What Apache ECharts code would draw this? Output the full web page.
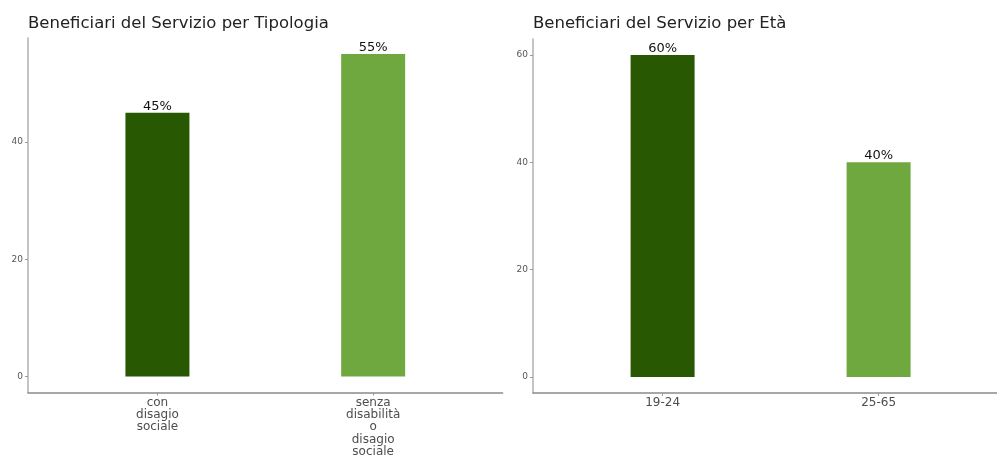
<!DOCTYPE html>
<html>
<head>
<meta charset="utf-8">
<script src="https://cdn.jsdelivr.net/npm/echarts@6/dist/echarts.min.js"></script>
<style>html,body{margin:0;padding:0;background:#fff;}#c{width:997px;height:458px;}</style>
</head>
<body>
<div id="c"></div>
<script>
const titleTipologia = "Beneficiari del Servizio per Tipologia";
const titleEta = "Beneficiari del Servizio per Età";
const catTipologia = ["con\ndisagio\nsociale", "senza\ndisabilità\no\ndisagio\nsociale"];
const valTipologia = [45, 55];
const catEta = ["19-24", "25-65"];
const valEta = [60, 40];
const ticksTipologia = [0, 20, 40];
const ticksEta = [0, 20, 40, 60];
const colors = ["#295803", "#70a840"];

const chart = echarts.init(document.getElementById('c'), null, {renderer: 'canvas'});
const font = "DejaVu Sans";

function mkX(idx, cats, mx) {
  return {
    type: 'value', gridIndex: idx, min: 0.4, max: mx,
    splitLine: {show: false},
    axisLine: {show: true, onZero: false, lineStyle: {color: '#8a8a8a', width: 1.5}},
    axisTick: {show: true, customValues: [1, 2], length: 3, lineStyle: {color: '#999'}},
    axisLabel: {customValues: [1, 2], formatter: v => cats[Math.round(v) - 1], color: '#4d4d4d',
      fontFamily: font, fontSize: 12, lineHeight: 12.3, margin: 4, verticalAlign: 'top'}
  };
}
function mkY(idx, ticks, mn, mx) {
  return {
    type: 'value', gridIndex: idx, min: mn, max: mx,
    splitLine: {show: false},
    axisLine: {show: true, onZero: false, lineStyle: {color: '#b0b0b0', width: 1.5}},
    axisTick: {show: true, customValues: ticks, length: 3, lineStyle: {color: '#999'}},
    axisLabel: {customValues: ticks, color: '#555', fontFamily: font, fontSize: 9, margin: 5}
  };
}
function mkSeries(idx, vals) {
  return {
    type: 'bar', xAxisIndex: idx, yAxisIndex: idx, barWidth: 64,
    data: vals.map((v, i) => ({value: [i + 1, v], itemStyle: {color: colors[i]}})),
    label: {show: true, position: 'top', distance: 0, formatter: p => p.value[1] + '%',
      color: '#111', fontFamily: font, fontSize: 13}
  };
}

chart.setOption({
  animation: false,
  title: [
    {text: titleTipologia, left: 28, top: 15, padding: 0, textStyle: {fontFamily: font, fontSize: 16.5, fontWeight: 'normal', color: '#222'}},
    {text: titleEta, left: 533, top: 15, padding: 0, textStyle: {fontFamily: font, fontSize: 16.5, fontWeight: 'normal', color: '#222'}}
  ],
  grid: [
    {left: 28, width: 474.6, top: 38, height: 355},
    {left: 533, width: 464, top: 39, height: 354}
  ],
  xAxis: [mkX(0, catTipologia, 2.6), mkX(1, catEta, 0.4 + 464 / 216)],
  yAxis: [mkY(0, ticksTipologia, -2.75, 57.75), mkY(1, ticksEta, -3, 63)],
  series: [mkSeries(0, valTipologia), mkSeries(1, valEta)]
});
</script>
</body>
</html>
